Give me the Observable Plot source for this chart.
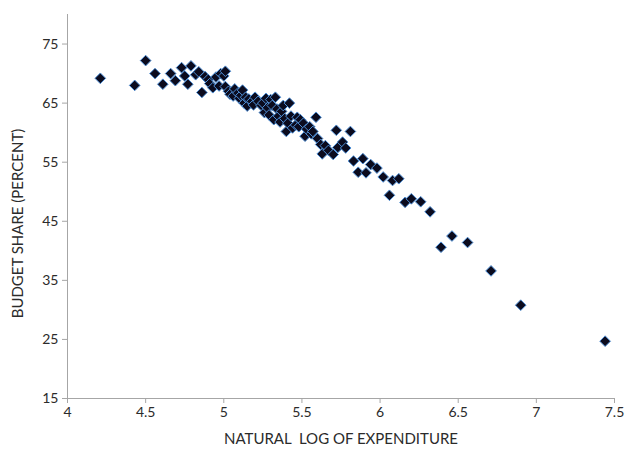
<!DOCTYPE html>
<html>
<head>
<meta charset="utf-8">
<script src="https://cdn.jsdelivr.net/npm/d3@7"></script>
<script src="https://cdn.jsdelivr.net/npm/@observablehq/plot@0.6"></script>
<style>
  html, body { margin: 0; padding: 0; background: #fff; }
  svg text { white-space: pre; }
</style>
</head>
<body>
<div id="chart"></div>
<script>
const logExpenditure = [
  4.21, 4.43, 4.50, 4.56, 4.61, 4.66, 4.69, 4.73, 4.75, 4.77,
  4.79, 4.82, 4.84, 4.86, 4.88, 4.90, 4.91, 4.93, 4.95, 4.97,
  4.98, 5.00, 5.01, 5.01, 5.03, 5.04, 5.06, 5.07, 5.09, 5.10,
  5.11, 5.12, 5.13, 5.14, 5.15, 5.16, 5.18, 5.19, 5.20, 5.22,
  5.24, 5.25, 5.26, 5.27, 5.28, 5.29, 5.30, 5.31, 5.32, 5.33,
  5.34, 5.35, 5.36, 5.37, 5.38, 5.39, 5.40, 5.41, 5.42, 5.43,
  5.44, 5.46, 5.47, 5.48, 5.49, 5.51, 5.52, 5.53, 5.55, 5.56,
  5.57, 5.59, 5.60, 5.62, 5.63, 5.65, 5.67, 5.70, 5.72, 5.73,
  5.76, 5.78, 5.81, 5.83, 5.86, 5.89, 5.91, 5.94, 5.98, 6.02,
  6.06, 6.08, 6.12, 6.16, 6.20, 6.26, 6.32, 6.39, 6.46, 6.56,
  6.71, 6.90, 7.44
];
const budgetShare = [
  69.2, 68.0, 72.2, 70.0, 68.2, 70.0, 68.8, 71.0, 69.6, 68.2,
  71.3, 69.8, 70.3, 66.8, 69.5, 69.0, 68.3, 67.6, 69.4, 67.9,
  70.0, 69.6, 70.4, 67.8, 67.0, 66.5, 66.2, 67.4, 66.7, 65.8,
  66.3, 67.2, 65.0, 66.0, 64.5, 65.7, 65.3, 64.7, 66.0, 65.3,
  64.6, 65.0, 63.4, 65.8, 64.2, 63.0, 65.6, 64.6, 62.2, 66.0,
  64.0, 62.8, 61.8, 63.6, 64.6, 62.4, 60.2, 61.6, 65.0, 62.8,
  60.8, 61.3, 62.6, 61.0, 62.2, 61.6, 59.4, 60.6, 61.0, 59.8,
  60.2, 62.6, 59.0, 58.0, 56.4, 57.8, 57.0, 56.3, 60.4, 57.5,
  58.4, 57.4, 60.2, 55.2, 53.3, 55.6, 53.2, 54.6, 54.0, 52.5,
  49.4, 51.9, 52.2, 48.2, 48.8, 48.3, 46.6, 40.6, 42.5, 41.4,
  36.6, 30.8, 24.7
];
const xTicks = [4, 4.5, 5, 5.5, 6, 6.5, 7, 7.5];
const yTicks = [15, 25, 35, 45, 55, 65, 75];
const xTitle = "NATURAL  LOG OF EXPENDITURE";
const yTitle = "BUDGET SHARE (PERCENT)";

const data = logExpenditure.map((x, i) => ({x, y: budgetShare[i]}));

const font = "Lato, 'Open Sans', sans-serif";
const axisColor = "#a6a6a6";
const textColor = "#2b2b2b";

const chart = Plot.plot({
  width: 625,
  height: 453,
  marginLeft: 67,
  marginRight: 11,
  marginTop: 14,
  marginBottom: 55,
  style: {fontFamily: font, fontSize: "14px", color: textColor, background: "#fff"},
  x: {domain: [4, 7.5]},
  y: {domain: [15, 80]},
  marks: [
    Plot.ruleX([4], {stroke: axisColor, strokeWidth: 1}),
    Plot.ruleY([15], {stroke: axisColor, strokeWidth: 1}),
    Plot.axisX({
      ticks: xTicks, tickSize: 5, tickPadding: 4, stroke: axisColor, fill: textColor,
      tickFormat: d => String(d), fontSize: 14, label: null
    }),
    Plot.axisY({
      ticks: yTicks, tickSize: 5, tickPadding: 4, stroke: axisColor, fill: textColor,
      tickFormat: d => String(d), fontSize: 14, label: null
    }),
    Plot.text([xTitle], {
      frameAnchor: "bottom", dy: 45, fontSize: 15, fill: textColor, text: d => d
    }),
    Plot.text([yTitle], {
      frameAnchor: "left", textAnchor: "middle", dx: -49, dy: 17, rotate: -90,
      fontSize: 15, fill: textColor, text: d => d
    }),
    Plot.dot(data, {
      x: "x", y: "y", symbol: "diamond2", r: 4.8,
      fill: "#0b0b1e", stroke: "#4f8fd6", strokeWidth: 1
    })
  ]
});

document.getElementById("chart").appendChild(chart);
</script>
</body>
</html>
